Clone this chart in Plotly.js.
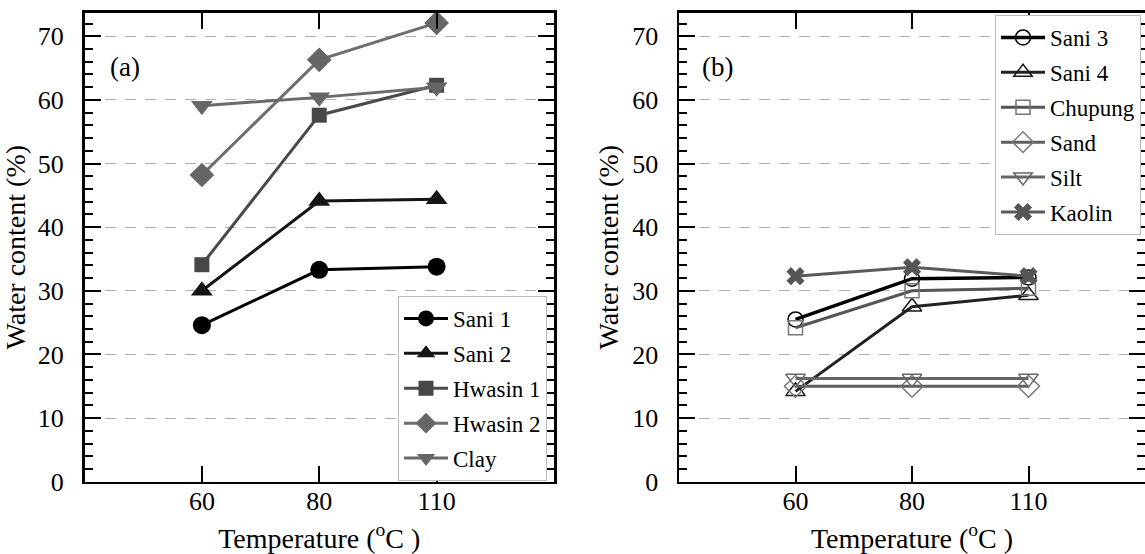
<!DOCTYPE html>
<html>
<head>
<meta charset="utf-8">
<script src="https://cdn.plot.ly/plotly-3.0.1.min.js"></script>
<style>html,body{margin:0;padding:0;background:#fff;}#chart{width:1145px;height:554px;}</style>
</head>
<body>
<div id="chart"></div>
<script>
// Temperatures (categories)
const temps = ['60', '80', '110'];

// Panel (a)
const sani1   = [24.6, 33.3, 33.8];
const sani2   = [30.0, 44.1, 44.4];
const hwasin1 = [34.1, 57.6, 62.3];
const hwasin2 = [48.2, 66.3, 72.1];
const clay    = [59.1, 60.4, 62.0];

// Panel (b)
const sani3   = [25.5, 31.9, 32.1];
const sani4   = [14.2, 27.5, 29.3];
const chupung = [24.2, 30.0, 30.4];
const sand    = [15.0, 15.0, 15.0];
const silt    = [16.2, 16.2, 16.2];
const kaolin  = [32.3, 33.7, 32.3];

const FONT = 'Liberation Serif';

function tr(name, y, xa, ya, leg, lineColor, lineWidth, symbol, size, mColor, mLineW) {
  return {
    type: 'scatter', mode: 'lines+markers', name: name, legendgroup: name,
    x: temps, y: y, xaxis: xa, yaxis: ya, legend: leg,
    line: {color: lineColor, width: lineWidth},
    marker: {symbol: symbol, size: size, color: mColor, line: {color: mColor, width: mLineW}},
    cliponaxis: false
  };
}

const data = [
  tr('Sani 1', sani1, 'x', 'y', 'legend', '#000000', 3, 'circle', 18, '#000000', 0),
  tr('Sani 2', sani2, 'x', 'y', 'legend', '#151515', 3, 'triangle-up', 19, '#151515', 0),
  tr('Hwasin 1', hwasin1, 'x', 'y', 'legend', '#4a4a4a', 3, 'square', 15, '#474747', 0),
  tr('Hwasin 2', hwasin2, 'x', 'y', 'legend', '#6e6e6e', 3, 'diamond', 19, '#666666', 0),
  tr('Clay', clay, 'x', 'y', 'legend', '#6a6a6a', 3, 'triangle-down', 19, '#666666', 0),

  tr('Sani 3', sani3, 'x2', 'y2', 'legend2', '#000000', 3.5, 'circle-open', 15, '#000000', 1.5),
  tr('Sani 4', sani4, 'x2', 'y2', 'legend2', '#222222', 3, 'triangle-up-open', 17, '#1a1a1a', 1.5),
  tr('Chupung', chupung, 'x2', 'y2', 'legend2', '#555555', 3, 'square-open', 14, '#777777', 1.5),
  tr('Sand', sand, 'x2', 'y2', 'legend2', '#5e5e5e', 3, 'diamond-open', 17, '#777777', 1.5),
  tr('Silt', silt, 'x2', 'y2', 'legend2', '#666666', 3, 'triangle-down-open', 17, '#666666', 1.5),
  tr('Kaolin', kaolin, 'x2', 'y2', 'legend2', '#5a5a5a', 3, 'x', 16, '#555555', 0)
];

function xAxis(domain, anchor) {
  return {
    domain: domain, anchor: anchor, type: 'category', range: [-1, 3],
    showline: true, linecolor: '#000', linewidth: 2.5, mirror: 'ticks',
    ticks: 'inside', ticklen: 16, tickwidth: 2, tickcolor: '#000',
    showgrid: false, zeroline: false, ticklabelstandoff: -5,
    tickfont: {family: FONT, size: 26, color: '#000'},
    title: {text: 'Temperature (<sup>o</sup>C )', font: {family: FONT, size: 28, color: '#000'}, standoff: 15}
  };
}
function yAxis(anchor) {
  return {
    domain: [0.1305, 0.977], anchor: anchor, range: [0, 73.7],
    showline: true, linecolor: '#000', linewidth: 2.5, mirror: 'ticks',
    ticks: 'inside', ticklen: 16, tickwidth: 2, tickcolor: '#000',
    dtick: 10, tick0: 0,
    minor: {dtick: 2, ticks: 'inside', ticklen: 8, tickwidth: 2, tickcolor: '#000', showgrid: false},
    showgrid: true, gridcolor: '#b0b0b0', gridwidth: 1, griddash: '11px,9px',
    zeroline: false, ticklabelstandoff: 13,
    tickfont: {family: FONT, size: 26, color: '#000'},
    title: {text: 'Water content (%)', font: {family: FONT, size: 28, color: '#000'}, standoff: 6}
  };
}

const legendBase = {
  bgcolor: '#ffffff', bordercolor: '#bbbbbb', borderwidth: 1,
  font: {family: FONT, size: 23, color: '#000'},
  xanchor: 'left', yanchor: 'top', itemwidth: 44, tracegroupgap: 2, traceorder: 'grouped'
};

const layout = {
  width: 1145, height: 554,
  margin: {l: 0, r: 0, t: 0, b: 0},
  paper_bgcolor: '#fff', plot_bgcolor: '#fff',
  showlegend: true,
  font: {family: FONT, color: '#000'},
  xaxis: xAxis([84.5 / 1145, 554 / 1145], 'y'),
  yaxis: yAxis('x'),
  xaxis2: xAxis([679 / 1145, 1.0], 'y2'),
  yaxis2: yAxis('x2'),
  legend: Object.assign({}, legendBase, {x: 398 / 1145, y: 1 - 296 / 554}),
  legend2: Object.assign({}, legendBase, {x: 995 / 1145, y: 1 - 15 / 554}),
  annotations: [
    {text: '(a)', xref: 'paper', yref: 'paper', x: 108 / 1145, y: 1 - 67 / 554, xanchor: 'left', yanchor: 'middle', showarrow: false, font: {family: FONT, size: 27, color: '#000'}},
    {text: '(b)', xref: 'paper', yref: 'paper', x: 700 / 1145, y: 1 - 67 / 554, xanchor: 'left', yanchor: 'middle', showarrow: false, font: {family: FONT, size: 27, color: '#000'}}
  ]
};

Plotly.newPlot('chart', data, layout, {displayModeBar: false, staticPlot: true});
</script>
</body>
</html>
